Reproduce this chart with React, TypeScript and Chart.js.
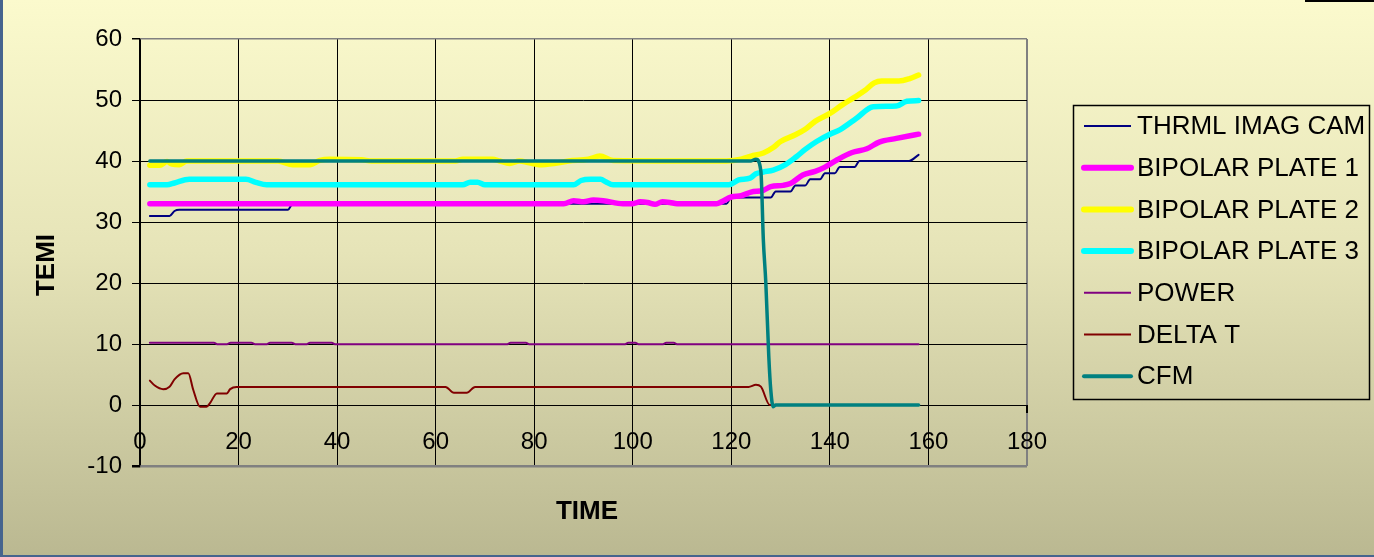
import React, { useEffect, useRef } from "react";
import { Chart, registerables } from "chart.js";

Chart.register(...registerables);

// ---------- data ----------
const seriesNames = [
  "THRML IMAG CAM",
  "BIPOLAR PLATE 1",
  "BIPOLAR PLATE 2",
  "BIPOLAR PLATE 3",
  "POWER",
  "DELTA T",
  "CFM",
];

const xTickValues = [0, 20, 40, 60, 80, 100, 120, 140, 160, 180];
const yTickValues = [-10, 0, 10, 20, 30, 40, 50, 60];

const camTime = [2, 6, 7, 8, 30, 31, 119, 120, 128, 129, 132, 133, 135, 136, 138, 139, 141, 142, 145, 146, 156, 158];
const camTemp = [31, 31, 31.8, 32, 32, 33, 33, 34, 34, 35, 35, 36, 36, 37, 37, 38, 38, 39, 39, 40, 40, 41];

const plate1Time = [2, 86, 88, 90, 92, 94, 98, 100, 101.5, 103, 104.5, 106, 107.5, 109, 117, 118, 120, 122, 124, 126.5, 128, 130.5, 132, 134.5, 137, 139, 141.5, 144.5, 147.5, 150, 153.5, 156, 158];
const plate1Temp = [33, 33, 33.5, 33.3, 33.6, 33.5, 33, 33, 33.3, 33.2, 32.9, 33.3, 33.2, 33, 33, 33.3, 34.1, 34.3, 34.9, 35.2, 35.8, 36, 36.3, 37.7, 38.3, 39, 40.2, 41.4, 42, 43.1, 43.7, 44.1, 44.4];

const plate2Time = [2, 4, 5.5, 6.5, 8, 9.5, 28, 31, 34.5, 36.5, 38.5, 45, 47, 64, 65.5, 71.5, 73, 75, 77, 79, 81, 84, 87, 91, 93.3, 96, 119, 122, 124, 126.5, 128.5, 130, 133, 135, 137, 140, 142.5, 144.7, 147, 149, 150.5, 154, 156.2, 158];
const plate2Temp = [39.3, 39.3, 39.9, 39.5, 39.4, 40, 40, 39.4, 39.4, 40.1, 40.3, 40.2, 40, 40, 40.3, 40.3, 40, 39.6, 40, 39.7, 39.4, 39.6, 40, 40.3, 40.8, 40.1, 40, 40.3, 40.8, 41.3, 42.2, 43.2, 44.3, 45.2, 46.5, 47.8, 49.2, 50.3, 51.5, 52.8, 53.1, 53.1, 53.5, 54.1];

const plate3Time = [2, 5.5, 7, 10, 21.5, 23.5, 25.7, 65.5, 67, 68.5, 70, 88, 89.5, 91.5, 93.5, 94.5, 96, 119.5, 121.5, 123.8, 125, 126.5, 128.5, 131, 133.2, 135, 137.3, 140, 142, 145.4, 148.8, 153.5, 155.6, 158];
const plate3Temp = [36.1, 36.1, 36.4, 37, 37, 36.5, 36.1, 36.1, 36.5, 36.5, 36.1, 36.1, 36.8, 37, 37, 36.6, 36.1, 36.1, 36.9, 37.2, 37.9, 38.2, 38.5, 39.4, 40.7, 41.9, 43.2, 44.4, 45.1, 47, 48.9, 49, 49.8, 49.9];

const powerTime = [2, 15, 15.8, 17.5, 18.4, 22.6, 23.5, 25.6, 26.4, 30.8, 31.7, 33.7, 34.5, 38.9, 39.7, 74.4, 75.2, 78.3, 79.1, 98.3, 99.1, 100.5, 101.3, 106, 106.8, 108.3, 109.1, 158];
const powerValue = [10.2, 10.2, 9.95, 9.95, 10.2, 10.2, 9.95, 9.95, 10.2, 10.2, 9.95, 9.95, 10.2, 10.2, 9.95, 9.95, 10.2, 10.2, 9.95, 9.95, 10.2, 10.2, 9.95, 9.95, 10.2, 10.2, 9.95, 9.95];

const deltaTime = [2, 3, 4.7, 6, 7, 8.8, 9.8, 10.8, 12.2, 13.5, 14.2, 15.6, 17.6, 18.3, 19.6, 62, 63.7, 66.3, 68, 123.5, 125, 126, 127.8, 158];
const deltaValue = [4, 3.2, 2.6, 3, 4.2, 5.2, 5.2, 2.5, -0.3, -0.3, 0.3, 1.9, 1.9, 2.6, 2.95, 2.95, 2, 2, 2.95, 2.95, 3.3, 3, 0, 0];

const cfmTime = [2, 124, 125, 126, 126.5, 127, 127.6, 128, 128.5, 129, 158];
const cfmValue = [40, 40, 40.3, 38.3, 27, 20, 8, 2.5, -0.3, 0, 0];

const seriesTimes = [camTime, plate1Time, plate2Time, plate3Time, powerTime, deltaTime, cfmTime];
const seriesValues = [camTemp, plate1Temp, plate2Temp, plate3Temp, powerValue, deltaValue, cfmValue];

// ---------- styles ----------
const seriesColors = ["#000080", "#FF00FF", "#FFFF00", "#00FFFF", "#800080", "#800000", "#008080"];
const seriesWidths = [2, 5.5, 5.5, 5.5, 2, 2, 3.5];
const legendWidths = [2, 6, 6, 6, 2, 2, 4];

const FONT = "Arial, 'Liberation Sans', sans-serif";

const legendPlugin = {
  id: "boxedLegend",
  afterDraw(chart: any) {
    const ctx = chart.ctx;
    ctx.save();
    const bx = 1073.5, by = 105.5, bw = 296, bh = 294;
    ctx.strokeStyle = "#000";
    ctx.lineWidth = 1.5;
    ctx.strokeRect(bx, by, bw, bh);
    ctx.font = `26px ${FONT}`;
    ctx.textBaseline = "middle";
    ctx.textAlign = "left";
    chart.data.datasets.forEach((ds: any, i: number) => {
      const cy = 126 + i * 41.7;
      ctx.beginPath();
      ctx.strokeStyle = ds.borderColor;
      ctx.lineWidth = legendWidths[i];
      ctx.lineCap = legendWidths[i] > 3 ? "round" : "butt";
      ctx.moveTo(1084, cy);
      ctx.lineTo(1131, cy);
      ctx.stroke();
      ctx.fillStyle = "#000";
      ctx.fillText(ds.label, 1137, cy + 1);
    });
    ctx.restore();
  },
};

const titlePlugin = {
  id: "axisTitles",
  afterDraw(chart: any) {
    const ctx = chart.ctx;
    ctx.save();
    ctx.fillStyle = "#000";
    ctx.font = `bold 26px ${FONT}`;
    ctx.textAlign = "center";
    ctx.textBaseline = "middle";
    ctx.fillText("TIME", 587, 512);
    ctx.translate(47, 265);
    ctx.rotate(-Math.PI / 2);
    ctx.fillText("TEMI", 0, 0);
    ctx.restore();
  },
};

export default function App() {
  const canvasRef = useRef<HTMLCanvasElement | null>(null);

  useEffect(() => {
    if (!canvasRef.current) return;
    const datasets = seriesNames.map((name, i) => ({
      label: name,
      data: seriesTimes[i].map((t, k) => ({ x: t, y: seriesValues[i][k] })),
      borderColor: seriesColors[i],
      backgroundColor: seriesColors[i],
      borderWidth: seriesWidths[i],
      pointRadius: 0,
      pointHoverRadius: 0,
      fill: false,
      cubicInterpolationMode: "monotone" as const,
      borderCapStyle: "round" as const,
      borderJoinStyle: "round" as const,
      order: seriesNames.length - 1 - i,
    }));

    const chart = new Chart(canvasRef.current, {
      type: "line",
      data: { datasets },
      options: {
        animation: false,
        responsive: false,
        maintainAspectRatio: false,
        layout: { padding: { left: 0, top: 39, right: 347, bottom: 91 } },
        plugins: {
          legend: { display: false },
          tooltip: { enabled: false },
        },
        scales: {
          x: {
            type: "linear",
            min: 0,
            max: 180,
            position: { y: 0 } as any,
            afterBuildTicks: (scale: any) => {
              scale.ticks = xTickValues.map((v) => ({ value: v }));
            },
            ticks: {
              color: "#000",
              font: { family: FONT, size: 24 },
              padding: 16,
              maxRotation: 0,
              autoSkip: false,
              callback: (v: any) => String(v),
            },
            grid: {
              color: (c: any) => (c.tick && c.tick.value === 180 ? "#808080" : "#000"),
              lineWidth: (c: any) => (c.tick && c.tick.value === 180 ? 2 : 1),
              tickColor: "#000",
              tickLength: 7,
              drawTicks: true,
            },
            border: { display: true, color: "#000", width: 1 },
          },
          y: {
            type: "linear",
            min: -10,
            max: 60,
            afterFit: (scale: any) => {
              scale.width = 140;
            },
            afterBuildTicks: (scale: any) => {
              scale.ticks = yTickValues.map((v) => ({ value: v }));
            },
            ticks: {
              color: "#000",
              font: { family: FONT, size: 24 },
              padding: 10,
              callback: (v: any) => String(v),
            },
            grid: {
              color: (c: any) =>
                c.tick && (c.tick.value === 60 || c.tick.value === -10) ? "#808080" : "#000",
              lineWidth: (c: any) =>
                c.tick && c.tick.value === -10 ? 2.5 : c.tick && c.tick.value === 60 ? 1.5 : 1,
              tickColor: "#000",
              tickLength: 8,
            },
            border: { display: true, color: "#000", width: 1.2 },
          },
        },
      },
      plugins: [legendPlugin, titlePlugin],
    });
    return () => chart.destroy();
  }, []);

  return (
    <div
      style={{
        position: "fixed",
        left: 0,
        top: 0,
        width: 1374,
        height: 557,
        overflow: "hidden",
        background: "linear-gradient(180deg, #FBFACD 0%, #E6E4B8 45%, #BAB891 100%)",
      }}
    >
      <div style={{ position: "absolute", left: 0, top: 0, width: 3, height: 557, background: "#46648E" }} />
      <div style={{ position: "absolute", left: 0, top: 555, width: 1374, height: 2, background: "#46648E" }} />
      <div style={{ position: "absolute", left: 1305, top: 0, width: 69, height: 2, background: "#000" }} />
      <canvas ref={canvasRef} width={1374} height={557} style={{ position: "absolute", left: 0, top: 0 }} />
    </div>
  );
}
